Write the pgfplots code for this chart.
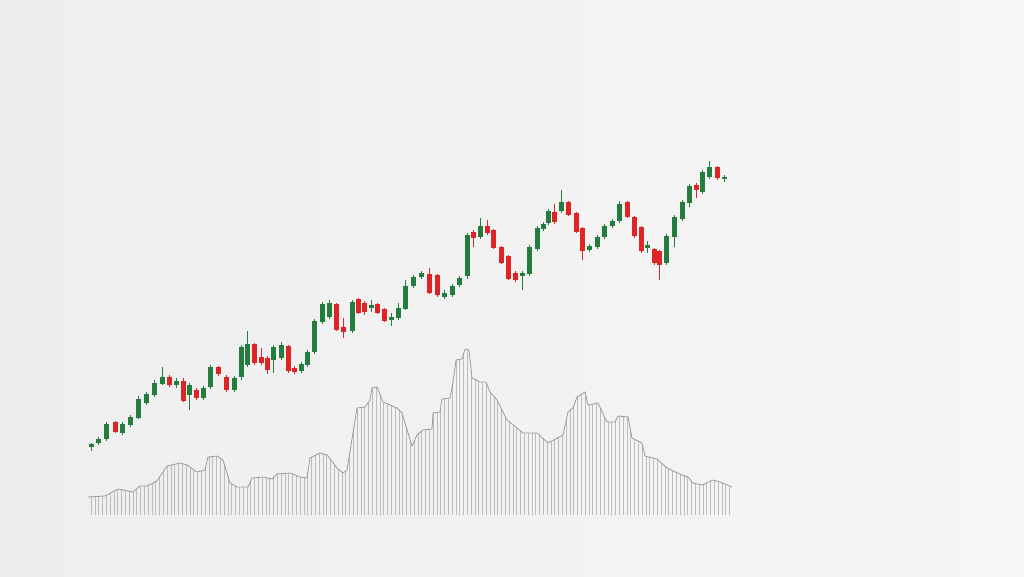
\documentclass[border=0pt]{standalone}
\usepackage{pgfplots}
\pgfplotsset{compat=1.18}
\usepackage{pgfplotstable}
\usetikzlibrary{patterns.meta}
\definecolor{bgL}{RGB}{238,238,238}
\definecolor{bgR}{RGB}{246,246,246}
\definecolor{cgreen}{RGB}{36,125,62}
\definecolor{cred}{RGB}{222,36,36}
\definecolor{vline}{RGB}{188,188,188}
\definecolor{vedge}{RGB}{155,155,155}

% up candles: x open high low close
\pgfplotstableread{
x o h l c
91 129 133 125 132
98 133 139 131 137
106 137 154 135 152
122 143 154 141 152
130 151 161 149 159
138 158 180 157 177
146 173 184 171 182
154 181 196 179 193
162 192 209 191 199
176 191 198 188 195
189 181 193 166 191
203 178 190 176 188
210 189 211 187 209
234 186 200 184 198
241 199 231 196 229
247 211 245 209 232
273 216 231 203 229
281 218 234 216 231
301 205 214 203 212
307 211 226 209 224
314 224 257 222 255
322 254 274 252 272
329 259 276 257 273
352 245 276 243 274
371 268 276 264 271
391 256 263 250 259
398 258 273 256 268
405 267 296 266 290
413 290 301 288 299
421 299 305 297 303
444 279 286 277 283
452 281 292 279 290
459 291 300 289 298
467 300 343 297 341
480 339 358 337 350
522 300 305 286 303
529 302 331 300 329
537 327 350 325 348
543 347 354 345 352
548 353 367 351 365
561 365 386 363 374
589 326 332 324 330
597 329 341 327 339
604 339 352 337 350
612 350 357 348 355
619 355 375 353 372
647 328 335 323 331
666 313 342 311 340
674 339 361 329 359
682 357 376 355 374
689 373 392 369 390
702 384 406 382 404
709 399 415 397 409
724 397 401 394 398.5
}\up

% down candles
\pgfplotstableread{
x o h l c
115 154 155 143 144
169 199 201 189 191
183 195 198 174 175
196 186 188 176 178
218 209 210 200 202
226 199 201 184 186
254 232 233 211 213
261 219 228 211 213
267 218 220 202 206
288 230 231 203 205
294 208 210 202 204
336 272 273 245 246
343 249 258 238 244
358 277 278 262 263
364 273 275 261 264
377 272 273 262 263
384 267 268 254 255
429 302 308 282 283
437 301 302 279 281
473 344 346 329 338
487 350 356 341 343
493 346 347 327 328
501 329 330 312 313
508 320 321 296 297
515 303 305 294 296
554 364 372 352 354
568 374 375 360 361
576 363 364 343 344
582 348 349 316 325
627 374 375 358 359
634 359 360 338 340
641 349 350 323 325
654 327 328 311 313
659 325 326 296 311
696 391 393 378 386
717 409 410 396 398
}\down

% volume envelope
\pgfplotstableread{
x v
88 18
105 19
118 26
133 23
140 29
147 29
157 34
167 49
180 52
187 50
197 43
205 45
208 58
217 59
223 55
230 32
237 28
248 28
252 37
263 38
272 36
277 41
290 42
300 38
307 37
310 57
320 62
327 60
337 47
343 42
347 45
357 107
365 108
370 115
372 127
377 128
383 113
390 110
397 107
402 102
405 92
412 69
417 80
423 85
432 86
433 102
440 103
442 116
450 117
453 133
456 155
462 156
465 166
469 165
472 137
480 133
486 133
490 123
497 115
507 95
517 87
523 82
537 82
548 72
563 80
568 103
573 107
577 118
585 123
588 110
598 112
607 93
615 93
618 99
628 98
632 77
642 72
645 59
657 56
667 47
682 40
688 38
693 32
702 30
713 35
720 33
732 28
}\vol

\begin{document}
\begin{tikzpicture}
\shade[left color=bgL, right color=bgR] (0,0) rectangle (1024pt,576pt);
\begin{axis}[at={(0,0)}, anchor=south west, scale only axis,
  width=1024pt, height=576pt, xmin=0, xmax=1024, ymin=-61, ymax=515,
  hide axis, clip=false]
\addplot[draw=none, pattern={Lines[angle=90, distance=3.8pt, line width=0.7pt]},
  pattern color=vline] table[x=x, y=v] {\vol} \closedcycle;
\addplot[vedge, line width=0.8pt, mark=none] table[x=x, y=v] {\vol};
\end{axis}
\begin{axis}[at={(0,0)}, anchor=south west, scale only axis,
  width=1024pt, height=576pt, xmin=0, xmax=1024, ymin=0, ymax=576,
  hide axis, clip=false]
% wicks
\addplot[cgreen, line width=1pt, mark=none,
  quiver={u=0, v=\thisrow{h}-\thisrow{l}}] table[x=x, y=l] {\up};
\addplot[cred, line width=1pt, mark=none,
  quiver={u=0, v=\thisrow{h}-\thisrow{l}}] table[x=x, y=l] {\down};
% bodies
\addplot[cgreen, line width=5pt, mark=none,
  quiver={u=0, v=\thisrow{c}-\thisrow{o}}] table[x=x, y=o] {\up};
\addplot[cred, line width=5pt, mark=none,
  quiver={u=0, v=\thisrow{o}-\thisrow{c}}] table[x=x, y=c] {\down};
\end{axis}
\end{tikzpicture}
\end{document}
